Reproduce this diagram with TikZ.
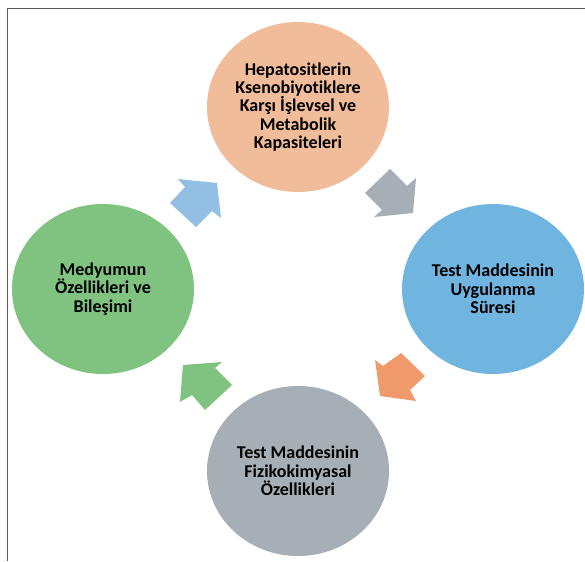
\documentclass[tikz,border=0pt]{standalone}
\usepackage{fontspec}
\setmainfont{Carlito}[Ligatures=NoCommon]
\usetikzlibrary{positioning,shapes.geometric}
\definecolor{peach}{RGB}{241,188,153}
\definecolor{skyblue}{RGB}{112,180,224}
\definecolor{slate}{RGB}{166,174,182}
\definecolor{leaf}{RGB}{128,194,128}
\definecolor{lightblue}{RGB}{146,191,227}
\definecolor{coral}{RGB}{240,153,106}
\definecolor{framegray}{RGB}{90,90,90}

\begin{document}
\begin{tikzpicture}[x=1pt,y=-1pt,node distance=182pt and 195pt,on grid,
  main node/.style={ellipse,minimum width=182pt,minimum height=170pt,inner xsep=-8pt,inner ysep=0pt,
    align=center,font=\bfseries\fontsize{18}{18.4}\selectfont}]
  \useasboundingbox (0,0) rectangle (585,561);
  \draw[framegray,line width=1.3pt] (585,8.7) -- (7.5,8.7) -- (7.5,561);

  \node[main node,fill=peach] (hep) at (298,107) {Hepatositlerin\\Ksenobiyotiklere\\Karşı İşlevsel ve\\Metabolik\\Kapasiteleri};
  \node[main node,fill=skyblue] (sure) [below right=of hep] {Test Maddesinin\\Uygulanma\\Süresi};
  \node[main node,fill=slate] (fiz) [below left=of sure] {Test Maddesinin\\Fizikokimyasal\\Özellikleri};
  \node[main node,fill=leaf] (med) [above left=of fiz] {Medyumun\\Özellikleri ve\\Bileşimi};

  % block arrows round the cycle
  \fill[lightblue] (170,203) -- (196,227) -- (212,211) -- (221,218) -- (217,183) -- (178,179) -- (185,187) -- cycle;
  \fill[slate] (365,193) -- (390,169) -- (407,186) -- (416,178) -- (413,213) -- (374,217) -- (382,210) -- cycle;
  \fill[coral] (401,353) -- (425,376) -- (410,390) -- (416,401) -- (380,396) -- (375,360) -- (383,366) -- cycle;
  \fill[leaf] (232,385) -- (205,410) -- (192,395) -- (180,402) -- (183,365) -- (222,362) -- (215,368) -- cycle;
\end{tikzpicture}
\end{document}
